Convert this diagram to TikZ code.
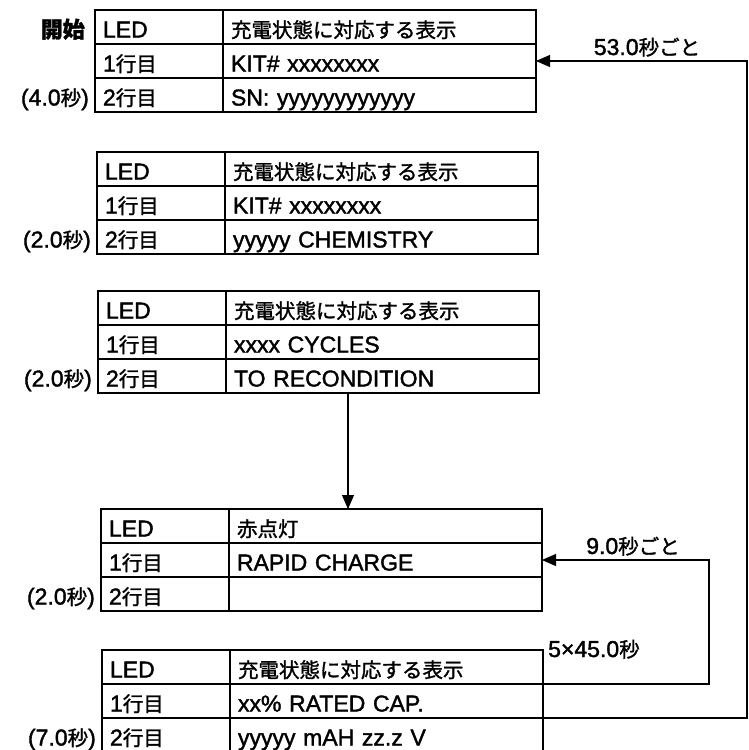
\documentclass[tikz,border=0pt]{standalone}
\usepackage{fontspec}
\setmainfont{Liberation Sans}[FakeBold=1.6]
\newfontfamily\jpfont{Noto Sans CJK JP}[FakeBold=1.4]
\usepackage{tikz}
\usetikzlibrary{positioning,arrows.meta}
\tikzstyle{arrow} = [-{Triangle[length=14pt,width=12pt]},line width=1.1pt]
\tikzstyle{cell} = [draw,line width=1.4pt,outer sep=0pt,inner xsep=8pt,inner ysep=0pt,minimum height=34pt,text height=23pt,text depth=2pt,align=left,font=\fontsize{23}{26}\selectfont]
\tikzstyle{keycell} = [cell,text width=112pt]
\tikzstyle{valcell} = [cell,text width=297pt]
\tikzstyle{lbl} = [inner sep=0pt,text height=23pt,text depth=2pt,font=\fontsize{23}{26}\selectfont]
\newcommand{\ja}[1]{{\jpfont\fontsize{20.5}{24}\selectfont#1}}
\newcommand{\panel}[7]{%
  \node[keycell,anchor=north west](#1a)at(#2,#3){LED};
  \node[valcell,right=0pt of #1a](#1b){#4};
  \node[keycell,below=0pt of #1a](#1c){1\ja{行目}};
  \node[valcell,right=0pt of #1c](#1d){#5};
  \node[keycell,below=0pt of #1c](#1e){2\ja{行目}};
  \node[valcell,right=0pt of #1e](#1f){#6};
  \node[lbl,left=6pt of #1e](#1t){#7};}

\begin{document}
\begin{tikzpicture}[x=1pt,y=-1pt]
      \useasboundingbox(0,0)rectangle(748,750);
      \panel{t1}{95}{10}{\ja{充電状態に対応する表示}}{KIT\# xxxxxxxx}{SN: yyyyyyyyyyyy}{(4.0\ja{秒})}
      \panel{t2}{97}{152}{\ja{充電状態に対応する表示}}{KIT\# xxxxxxxx}{yyyyy CHEMISTRY}{(2.0\ja{秒})}
      \panel{t3}{98}{291}{\ja{充電状態に対応する表示}}{xxxx CYCLES}{TO RECONDITION}{(2.0\ja{秒})}
      \panel{t4}{101}{509}{\ja{赤点灯}}{RAPID CHARGE}{}{(2.0\ja{秒})}
      \panel{t5}{102}{650}{\ja{充電状態に対応する表示}}{xx\% RATED CAP.}{yyyyy mAH zz.z V}{(7.0\ja{秒})}
      \node[lbl,left=10pt of t1a](start){\jpfont\bfseries\fontsize{22}{24}\selectfont 開始};
      \coordinate(rtA)at(747,0);
      \coordinate(rtB)at(709,0);
      \coordinate(dn)at(348,0);
      \draw[arrow](t5d.south east)--(t5d.south east-|rtA)|-(t1d.east);
      \draw[arrow](t5b.south east)--(t5b.south east-|rtB)|-(t4d.east);
      \draw[arrow](t3f.south-|dn)--(t4b.north-|dn);
      \node[lbl,anchor=base](every53)at(647,55){53.0\ja{秒ごと}};
      \node[lbl,anchor=base](every9)at(633,554){9.0\ja{秒ごと}};
      \node[lbl,anchor=base west](times5)at(548,657){5×45.0\ja{秒}};
    \end{tikzpicture}
\end{document}
